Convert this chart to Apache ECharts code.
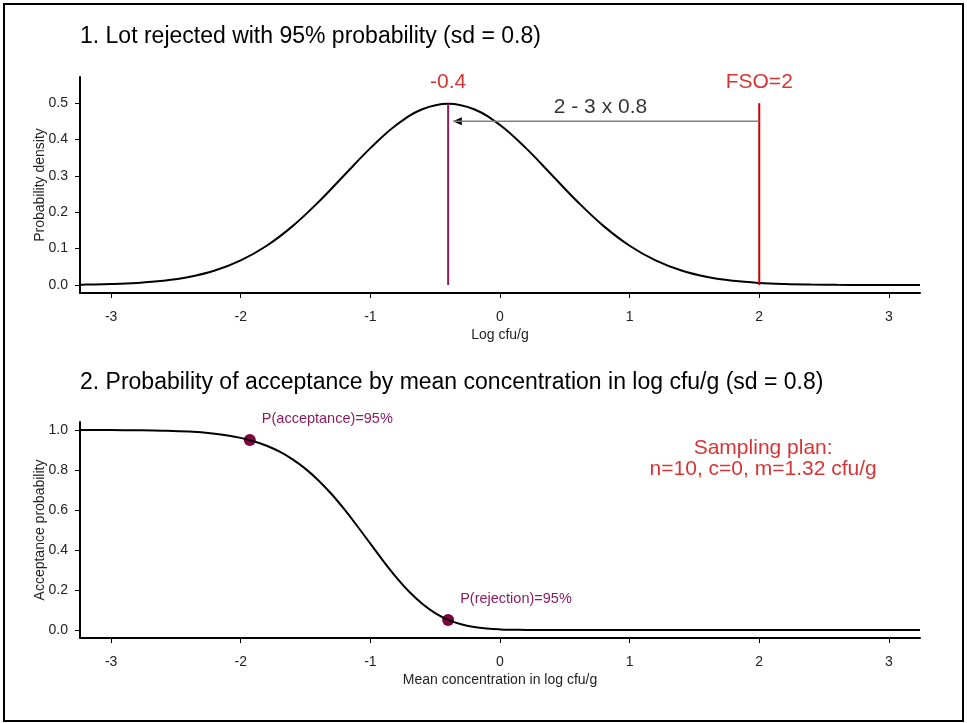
<!DOCTYPE html>
<html>
<head>
<meta charset="utf-8">
<script src="https://cdn.jsdelivr.net/npm/echarts@6/dist/echarts.min.js"></script>
<style>html,body{margin:0;padding:0;background:#fff}#c{width:967px;height:723px}</style>
</head>
<body>
<div id="c"></div>
<script>
// ---- data ----
const xTicks = [-3, -2, -1, 0, 1, 2, 3];
const densTicks = [0, 0.1, 0.2, 0.3, 0.4, 0.5];
const accTicks = [0, 0.2, 0.4, 0.6, 0.8, 1.0];

const densX = [-3.24,-3.2,-3.0,-2.8,-2.6,-2.4,-2.2,-2.0,-1.8,-1.6,-1.4,-1.2,-1.0,-0.8,-0.6,-0.4,-0.2,0.0,0.2,0.4,0.6,0.8,1.0,1.2,1.4,1.6,1.8,2.0,2.2,2.4,2.6,2.8,3.0,3.2,3.24];
const densY = [0.0009,0.0011,0.0025,0.0055,0.0114,0.0219,0.0397,0.0675,0.1079,0.1619,0.2283,0.3025,0.3764,0.4401,0.4833,0.4987,0.4833,0.4401,0.3764,0.3025,0.2283,0.1619,0.1079,0.0675,0.0397,0.0219,0.0114,0.0055,0.0025,0.0011,0.0004,0.0002,0.0001,0.0000,0.0000];

const accX = [-3.24,-3.0,-2.8,-2.6,-2.4,-2.2,-2.1,-2.0,-1.9,-1.8,-1.7,-1.6,-1.5,-1.4,-1.3,-1.2,-1.1,-1.0,-0.9,-0.8,-0.7,-0.6,-0.5,-0.4,-0.3,-0.2,-0.1,0.0,0.1,0.2,0.4,0.6,1.0,2.0,3.0,3.24];
const accY = [0.9999,0.9995,0.9987,0.9967,0.9919,0.9815,0.9728,0.9606,0.9438,0.9212,0.8915,0.8533,0.8057,0.7477,0.6798,0.6027,0.5188,0.4315,0.3449,0.2635,0.1913,0.1313,0.0846,0.0509,0.0285,0.0147,0.0070,0.0030,0.0012,0.0004,0.0000,0.0000,0.0000,0.0000,0.0000,0.0000];

const meanLine = [[-0.4, 0], [-0.4, 0.4987]];
const fsoLine = [[2, 0], [2, 0.5]];
const arrowFrom = [2, 0.45];
const arrowTo = [-0.36, 0.45];
const keyPoints = [[-1.93, 0.95, 'P(acceptance)=95%'], [-0.40, 0.05, 'P(rejection)=95%']];
const topNotes = [[-0.4, 0.559, '-0.4', '#CD0000'], [2, 0.559, 'FSO=2', '#CD0000'], [0.775, 0.49, '2 - 3 x 0.8', '#000']];
const bottomNotes = [[2.03, 0.855, 'Sampling plan:\nn=10, c=0, m=1.32 cfu/g', '#CD0000']];

const titles = ['1. Lot rejected with 95% probability (sd = 0.8)', '2. Probability of acceptance by mean concentration in log cfu/g (sd = 0.8)'];

// ---- chart ----
const FF = '"Liberation Sans", Arial, Helvetica, sans-serif';
const zip = (a, b) => a.map((v, i) => [v, b[i]]);

function xAxisDef(gi, name) {
  return {
    gridIndex: gi, type: 'value', min: -3.24, max: 3.24,
    axisLine: { show: true, onZero: false, lineStyle: { color: '#000', width: 2 } },
    axisTick: { show: true, customValues: xTicks, length: 5, lineStyle: { color: '#000', width: 1 } },
    axisLabel: { customValues: xTicks, margin: 17, fontSize: 14, color: '#222', fontFamily: FF },
    splitLine: { show: false },
    name: name, nameLocation: 'middle', nameGap: 35, nameMoveOverlap: false,
    nameTextStyle: { fontSize: 14, color: '#222', fontFamily: FF }
  };
}
function yAxisDef(gi, min, max, ticks, name) {
  return {
    gridIndex: gi, type: 'value', min: min, max: max,
    axisLine: { show: true, onZero: false, lineStyle: { color: '#000', width: 2 } },
    axisTick: { show: true, customValues: ticks, length: 5, lineStyle: { color: '#000', width: 1 } },
    axisLabel: { customValues: ticks, margin: 12, fontSize: 14, color: '#222', fontFamily: FF,
      formatter: v => Number(v).toFixed(1) },
    splitLine: { show: false },
    name: name, nameLocation: 'middle', nameGap: 33, nameMoveOverlap: false,
    nameTextStyle: { fontSize: 14, color: '#222', fontFamily: FF }
  };
}
function notesSeries(xi, yi, notes) {
  return {
    type: 'scatter', xAxisIndex: xi, yAxisIndex: yi, symbolSize: 0, silent: true, clip: false,
    data: notes.map(n => ({ value: [n[0], n[1]], name: n[2],
      label: { color: n[3] } })),
    label: { show: true, position: [0, 0], align: 'center', verticalAlign: 'middle',
      formatter: p => p.name, fontSize: 21, lineHeight: 21, fontFamily: FF }
  };
}

const chart = echarts.init(document.getElementById('c'), null, { renderer: 'canvas' });
chart.setOption({
  animation: false,
  backgroundColor: '#fff',
  textStyle: { fontFamily: FF },
  title: [
    { text: titles[0], left: 75, top: 20, textStyle: { fontSize: 23, fontWeight: 'normal', color: '#000', fontFamily: FF } },
    { text: titles[1], left: 75, top: 366, textStyle: { fontSize: 23, fontWeight: 'normal', color: '#000', fontFamily: FF } }
  ],
  graphic: [{
    type: 'rect', shape: { x: 4, y: 4, width: 959, height: 717 },
    style: { fill: 'none', stroke: '#000', lineWidth: 2 }, silent: true
  }],
  grid: [
    { left: 80, top: 77, width: 840, height: 216 },
    { left: 80, top: 422, width: 840, height: 216 }
  ],
  xAxis: [xAxisDef(0, 'Log cfu/g'), xAxisDef(1, 'Mean concentration in log cfu/g')],
  yAxis: [yAxisDef(0, -0.022, 0.572, densTicks, 'Probability density'),
          yAxisDef(1, -0.04, 1.04, accTicks, 'Acceptance probability')],
  series: [
    { type: 'line', xAxisIndex: 0, yAxisIndex: 0, data: zip(densX, densY), smooth: 0.4,
      showSymbol: false, silent: true, lineStyle: { color: '#000', width: 2 } },
    { type: 'line', xAxisIndex: 0, yAxisIndex: 0, data: meanLine, showSymbol: false, silent: true,
      lineStyle: { color: '#8B1C62', width: 2 } },
    { type: 'line', xAxisIndex: 0, yAxisIndex: 0, data: fsoLine, showSymbol: false, silent: true,
      lineStyle: { color: '#CD0000', width: 2 } },
    { type: 'line', xAxisIndex: 0, yAxisIndex: 0, data: [arrowFrom, arrowTo], showSymbol: false, silent: true,
      lineStyle: { color: '#808080', width: 1.5 } },
    { type: 'scatter', xAxisIndex: 0, yAxisIndex: 0, data: [arrowTo], silent: true,
      symbol: 'triangle', symbolSize: [8, 9], symbolRotate: 90, symbolOffset: [4, 0],
      itemStyle: { color: '#000', opacity: 1 } },
    notesSeries(0, 0, topNotes),
    { type: 'line', xAxisIndex: 1, yAxisIndex: 1, data: zip(accX, accY), smooth: 0.4,
      showSymbol: false, silent: true, lineStyle: { color: '#000', width: 2 } },
    { type: 'scatter', xAxisIndex: 1, yAxisIndex: 1, silent: true, clip: false,
      data: keyPoints.map(p => ({ value: [p[0], p[1]], name: p[2] })),
      symbolSize: 12, itemStyle: { color: '#800040', opacity: 1 },
      label: { show: true, position: 'right', distance: 6, offset: [0, -21],
        formatter: p => p.name, fontSize: 14.5, color: '#8B1C62', fontFamily: FF } },
    notesSeries(1, 1, bottomNotes)
  ]
});
</script>
</body>
</html>
